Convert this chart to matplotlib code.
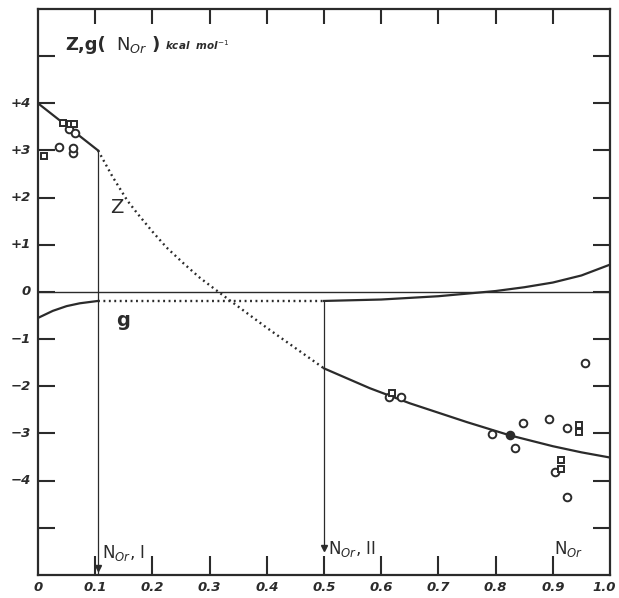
import numpy as np
import matplotlib
matplotlib.use("Agg")
import matplotlib.pyplot as plt

# Z(N_Or) curve: solid start, dotted middle, solid end
z_solid1_x = [0.0, 0.105]
z_solid1_y = [4.0, 3.0]
z_dot_x = [0.105, 0.13, 0.156, 0.174, 0.20, 0.225, 0.255, 0.283, 0.32, 0.36, 0.40, 0.45, 0.50]
z_dot_y = [3.0, 2.45, 1.94, 1.66, 1.28, 0.94, 0.60, 0.30, -0.04, -0.40, -0.76, -1.19, -1.62]
z_solid2_x = [0.50, 0.58, 0.65, 0.70, 0.75, 0.825, 0.90, 0.95, 1.0]
z_solid2_y = [-1.62, -2.04, -2.36, -2.56, -2.76, -3.04, -3.27, -3.40, -3.51]

# g(N_Or) curve
g_solid1_x = [0.0, 0.026, 0.05, 0.073, 0.105]
g_solid1_y = [-0.55, -0.40, -0.30, -0.24, -0.19]
g_dot_x = [0.105, 0.50]
g_dot_y = [-0.19, -0.19]
g_solid2_x = [0.50, 0.60, 0.70, 0.80, 0.85, 0.90, 0.95, 1.0]
g_solid2_y = [-0.19, -0.16, -0.09, 0.02, 0.10, 0.20, 0.35, 0.58]

# measured points
circ_x = [0.037, 0.061, 0.061, 0.055, 0.065, 0.614, 0.635, 0.793, 0.834, 0.847,
          0.894, 0.924, 0.904, 0.924, 0.956]
circ_y = [3.07, 2.95, 3.05, 3.46, 3.36, -2.23, -2.23, -3.01, -3.31, -2.78,
          -2.69, -2.89, -3.82, -4.34, -1.50]
sq_x = [0.0105, 0.044, 0.056, 0.063, 0.618, 0.945, 0.945, 0.914, 0.914]
sq_y = [2.88, 3.59, 3.57, 3.57, -2.14, -2.82, -2.96, -3.57, -3.75]
filled_x = [0.825]
filled_y = [-3.04]

x_ticks = [0.0, 0.1, 0.2, 0.3, 0.4, 0.5, 0.6, 0.7, 0.8, 0.9, 1.0]
x_labels = ["0", "0.1", "0.2", "0.3", "0.4", "0.5", "0.6", "0.7", "0.8", "0.9", "1.0"]
y_ticks = [4, 3, 2, 1, 0, -1, -2, -3, -4]
y_labels = ["+4", "+3", "+2", "+1", "0", "\u22121", "\u22122", "\u22123", "\u22124"]

N_I = 0.105
N_II = 0.50

ink = "#2b2b2b"
tick_font = dict(family="DejaVu Sans", style="italic", weight="bold", size=9.5, color=ink)

fig = plt.figure(figsize=(6.19, 5.98), dpi=100)
ax = fig.add_axes([0.0614, 0.0385, 0.9241, 0.9465])
ax.set_xlim(0, 1.0)
ax.set_ylim(-6, 6)

for s in ax.spines.values():
    s.set_linewidth(1.6)
    s.set_color(ink)

ax.set_xticks([])
ax.set_yticks([])

# inward ticks drawn by hand so lengths match the drawing
tick_dx = 0.03
for yv in range(-5, 6):
    ax.plot([0, tick_dx], [yv, yv], color=ink, lw=1.5, solid_capstyle="butt")
    ax.plot([1.0 - tick_dx, 1.0], [yv, yv], color=ink, lw=1.5, solid_capstyle="butt")
for xv in x_ticks[1:-1]:
    ax.plot([xv, xv], [-6, -5.6], color=ink, lw=1.5, solid_capstyle="butt")
    ax.plot([xv, xv], [6, 5.68], color=ink, lw=1.5, solid_capstyle="butt")

for xv, lab in zip(x_ticks, x_labels):
    if xv == 1.0:
        ax.text(1.011, -6.27, lab, ha="right", va="center", clip_on=False, **tick_font)
    else:
        ax.text(xv, -6.27, lab, ha="center", va="center", **tick_font)
for yv, lab in zip(y_ticks, y_labels):
    ax.text(-0.012, yv, lab, ha="right", va="center", **tick_font)

# zero line
ax.axhline(0, color=ink, lw=1.0)

# curves
ax.plot(z_solid1_x, z_solid1_y, color=ink, lw=1.6)
ax.plot(z_dot_x, z_dot_y, color=ink, lw=1.7, linestyle=(0, (0.8, 1.5)))
ax.plot(z_solid2_x, z_solid2_y, color=ink, lw=1.6)
ax.plot(g_solid1_x, g_solid1_y, color=ink, lw=1.6)
ax.plot(g_dot_x, g_dot_y, color=ink, lw=1.7, linestyle=(0, (0.8, 1.5)))
ax.plot(g_solid2_x, g_solid2_y, color=ink, lw=1.6)

# vertical markers with arrows
ax.plot([N_I, N_I], [3.0, -6.0], color=ink, lw=0.9)
ax.plot([N_II, N_II], [-0.19, -5.4], color=ink, lw=0.9)
ax.plot([N_I], [-5.85], marker="v", color=ink, ms=5)
ax.plot([N_II], [-5.42], marker="v", color=ink, ms=4)

# points
ax.plot(circ_x, circ_y, linestyle="none", marker="o", ms=5.5, mfc="white", mec=ink, mew=1.4)
ax.plot(sq_x, sq_y, linestyle="none", marker="s", ms=4.8, mfc="white", mec=ink, mew=1.4)
ax.plot(filled_x, filled_y, linestyle="none", marker="o", ms=5.5, mfc=ink, mec=ink, mew=1.4)

# labels
lab_font = dict(family="DejaVu Sans", color=ink)
ax.text(0.047, 5.12, "Z,g(", fontsize=13, weight="bold", ha="left", va="baseline", **lab_font)
ax.text(0.137, 5.12, "N$_{Or}$", fontsize=13, ha="left", va="baseline", **lab_font)
ax.text(0.198, 5.12, ")", fontsize=13, weight="bold", ha="left", va="baseline", **lab_font)
ax.text(0.222, 5.12, "kcal  mol$^{-1}$", fontsize=7.5, style="italic", weight="bold",
        ha="left", va="baseline", **lab_font)

ax.text(0.138, 1.8, "Z", fontsize=14, ha="center", va="center", **lab_font)
ax.text(0.149, -0.6, "g", fontsize=14, weight="bold", ha="center", va="center", **lab_font)

ax.text(0.112, -5.65, "N$_{Or}$, I", fontsize=12, ha="left", va="baseline", **lab_font)
ax.text(0.507, -5.55, "N$_{Or}$, II", fontsize=12, ha="left", va="baseline", **lab_font)
ax.text(0.902, -5.55, "N$_{Or}$", fontsize=12, ha="left", va="baseline", **lab_font)

fig.savefig("out.png", dpi=100)
